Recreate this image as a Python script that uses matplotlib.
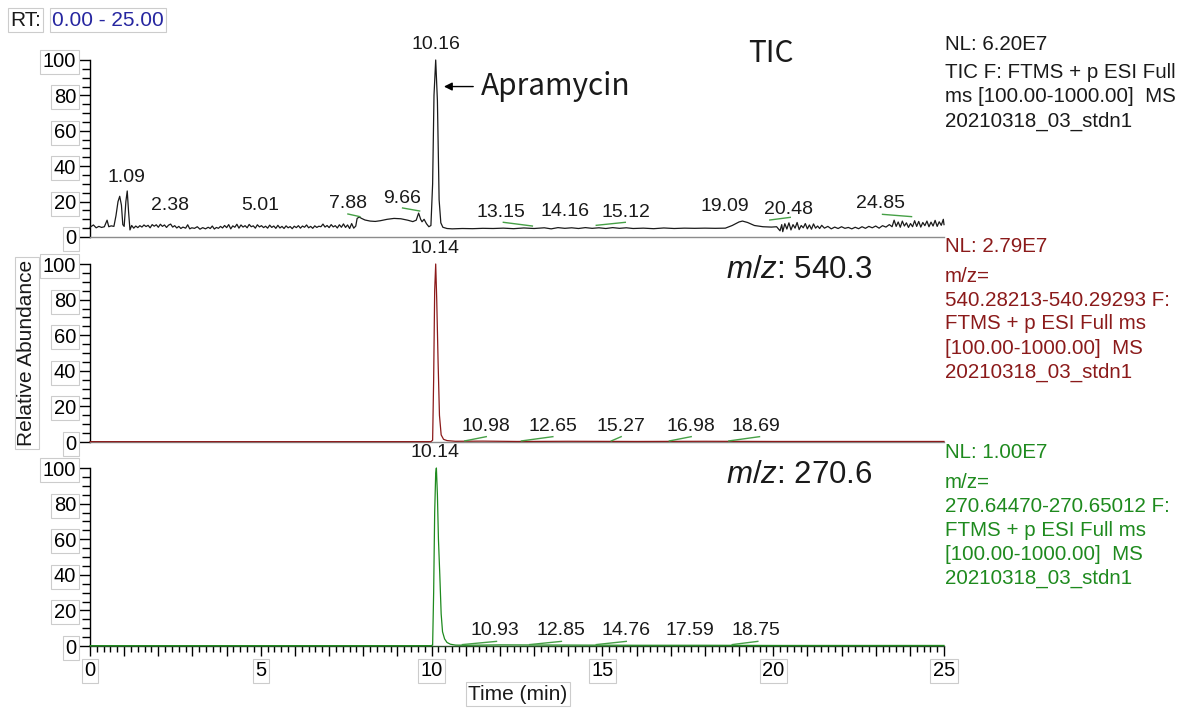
import numpy as np
import matplotlib
matplotlib.use("Agg")
from matplotlib import pyplot as plt
from matplotlib.ticker import MultipleLocator, FuncFormatter

plt.rcParams['font.family'] = ['Liberation Sans', 'DejaVu Sans']
plt.rcParams['mathtext.fontset'] = 'custom'
plt.rcParams['mathtext.it'] = 'Liberation Sans:italic'
plt.rcParams['mathtext.rm'] = 'Liberation Sans'

# ---- TIC trace ----
tic_time = [0.00, 0.10, 0.18, 0.26, 0.34, 0.42, 0.50, 0.55, 0.62, 0.70, 0.76, 0.82, 0.87, 0.92, 0.96,
            1.00, 1.05, 1.09, 1.13, 1.17, 1.22, 1.28, 1.34, 1.40, 1.46, 1.52, 1.58, 1.64, 1.70, 1.76,
            1.82, 1.88, 1.94, 2.00, 2.06, 2.12, 2.18, 2.24, 2.30, 2.36, 2.42, 2.48, 2.54, 2.60, 2.66,
            2.72, 2.80, 2.86, 2.92, 2.98, 3.06, 3.14, 3.22, 3.30, 3.38, 3.46, 3.52, 3.58, 3.64, 3.70,
            3.76, 3.82, 3.88, 3.94, 4.00, 4.06, 4.12, 4.18, 4.24, 4.30, 4.36, 4.42, 4.48, 4.54, 4.60,
            4.66, 4.72, 4.78, 4.84, 4.90, 4.96, 5.02, 5.08, 5.14, 5.20, 5.26, 5.32, 5.38, 5.44, 5.50,
            5.56, 5.62, 5.68, 5.74, 5.80, 5.86, 5.92, 5.98, 6.04, 6.10, 6.16, 6.22, 6.28, 6.34, 6.40,
            6.46, 6.52, 6.58, 6.64, 6.70, 6.76, 6.82, 6.88, 6.94, 7.00, 7.06, 7.12, 7.18, 7.24, 7.30,
            7.36, 7.42, 7.48, 7.54, 7.60, 7.66, 7.72, 7.78, 7.82, 7.88, 7.95, 8.05, 8.20, 8.35, 8.50,
            8.70, 8.90, 9.10, 9.30, 9.45, 9.55, 9.62, 9.68, 9.72, 9.78, 9.85, 9.92, 9.98, 10.03, 10.07,
            10.12, 10.17, 10.22, 10.27, 10.33, 10.45, 10.60, 10.90, 11.20, 11.50, 11.80, 12.10, 12.40,
            12.70, 13.00, 13.30, 13.50, 13.70, 13.90, 14.10, 14.30, 14.50, 14.70, 14.90, 15.10, 15.30,
            15.50, 15.70, 15.90, 16.20, 16.50, 16.80, 17.10, 17.40, 17.70, 18.00, 18.30, 18.60, 18.80,
            19.00, 19.10, 19.25, 19.45, 19.70, 19.95, 20.10, 20.20, 20.25, 20.28, 20.34, 20.40, 20.46,
            20.52, 20.58, 20.64, 20.70, 20.76, 20.82, 20.88, 20.94, 21.00, 21.06, 21.12, 21.18, 21.24,
            21.30, 21.36, 21.42, 21.50, 21.60, 21.70, 21.80, 21.90, 22.00, 22.10, 22.20, 22.30, 22.40,
            22.50, 22.60, 22.70, 22.80, 22.90, 23.00, 23.10, 23.20, 23.30, 23.40, 23.48, 23.54, 23.60,
            23.66, 23.72, 23.78, 23.84, 23.90, 23.96, 24.02, 24.08, 24.14, 24.20, 24.26, 24.32, 24.38,
            24.44, 24.50, 24.56, 24.62, 24.68, 24.74, 24.80, 24.86, 24.92, 24.98, 25.00]
tic_int = [5.5, 6.8, 5.2, 6.0, 5.4, 5.8, 9.5, 5.8, 6.3, 6.0, 12, 20, 23, 18, 7,
           6, 20, 26, 14, 4, 6.5, 5.0, 6.2, 5.3, 6.4, 5.6, 6.8, 5.9, 6.6, 5.2,
           7.0, 6.1, 6.9, 5.5, 7.2, 6.0, 6.8, 5.4, 6.7, 7.3, 5.6, 6.4, 5.1, 6.0, 4.8,
           5.6, 5.0, 6.9, 4.6, 5.2, 4.9, 5.8, 4.4, 5.3, 4.6, 5.5, 4.8, 6.2, 4.5, 5.4,
           4.9, 6.0, 5.1, 6.5, 5.3, 7.0, 4.6, 6.3, 5.5, 7.2, 5.0, 6.8, 5.6, 6.4, 5.2,
           7.1, 5.8, 6.3, 5.0, 6.9, 5.7, 6.4, 5.3, 6.1, 5.0, 6.7, 5.4, 6.2, 4.9, 6.6,
           5.1, 6.0, 4.8, 6.3, 5.2, 5.9, 4.7, 6.1, 5.3, 6.4, 5.0, 6.2, 5.5, 6.8, 5.2,
           6.0, 4.9, 6.3, 5.4, 6.1, 5.8, 7.3, 5.6, 6.5, 5.3, 7.0, 5.7, 6.4, 5.1, 6.9,
           5.5, 7.4, 5.4, 6.8, 4.8, 7.6, 5.0, 6.2, 10.5, 11.3, 10.5, 9.6, 9.0, 8.8, 9.2,
           10.0, 10.5, 10.3, 9.5, 8.7, 9.5, 13.5, 10.0, 8.6, 10.0, 7.5, 5.8, 6.5, 30, 80,
           100, 77, 21, 8, 5.5, 4.8, 4.6, 4.8, 4.7, 4.9, 4.8, 5.0, 4.7,
           5.1, 4.8, 5.2, 4.6, 5.3, 4.9, 5.2, 4.8, 5.3, 4.9, 5.2, 4.8, 5.3,
           4.9, 5.2, 4.8, 5.0, 4.7, 5.1, 4.8, 5.0, 4.9, 5.0, 4.9, 5.0, 6.5,
           8.5, 9.0, 8.2, 6.5, 5.8, 5.6, 5.8, 3.5, 7.0, 3.0, 7.5, 4.5, 8.0,
           4.0, 7.0, 5.0, 8.2, 4.2, 6.5, 5.2, 7.6, 4.6, 6.8, 4.4, 7.4, 5.0,
           6.2, 4.8, 6.6, 5.0, 6.0, 4.6, 5.6, 4.8, 5.8, 4.9, 5.4, 4.6, 5.5,
           4.7, 5.8, 4.9, 6.0, 5.2, 6.2, 5.0, 6.4, 5.6, 7.0, 5.8, 9.5, 6.0,
           8.5, 5.5, 9.0, 6.2, 8.0, 5.4, 7.6, 5.8, 9.2, 6.0, 8.8, 5.6, 8.2,
           6.4, 9.0, 5.8, 8.4, 6.2, 9.4, 6.0, 8.6, 6.6, 10.0, 7.0]

# ---- m/z 540.3 trace ----
mz540_time = [0.0, 9.98, 10.03, 10.06, 10.09, 10.12, 10.15, 10.19, 10.23, 10.28, 10.35, 10.45,
              10.70, 11.50, 12.50, 14.00, 16.00, 18.00, 20.00, 25.00]
mz540_int = [0.2, 0.2, 1, 35, 85, 100, 80, 45, 15, 4, 1.5, 0.8, 0.4, 0.5, 0.3, 0.4, 0.3, 0.4, 0.3, 0.3]

# ---- m/z 270.6 trace ----
mz270_time = [0.0, 9.98, 10.03, 10.06, 10.09, 10.12, 10.14, 10.17, 10.20, 10.24, 10.28, 10.32,
              10.38, 10.45, 10.55, 10.70, 11.00, 12.00, 14.00, 16.00, 18.00, 20.00, 25.00]
mz270_int = [0.2, 0.2, 0.5, 30, 75, 97, 100, 85, 60, 40, 18, 8, 4, 2, 1, 0.5, 0.4, 0.6, 0.5,
             0.4, 0.4, 0.3, 0.3]

# ---- peak labels: text, x, y ----
tic_lbl = ["10.16", "1.09", "2.38", "5.01", "7.88", "9.66", "13.15", "14.16", "15.12", "19.09", "20.48", "24.85"]
tic_lbl_x = [10.12, 1.08, 2.34, 4.97, 7.55, 9.13, 12.04, 13.9, 15.68, 18.58, 20.45, 23.15]
tic_lbl_y = [104, 28.8, 13, 13, 14, 17, 9.2, 9.6, 9.2, 12.4, 10.7, 14]

mz540_lbl = ["10.14", "10.98", "12.65", "15.27", "16.98", "18.69"]
mz540_lbl_x = [10.11, 11.58, 13.55, 15.55, 17.6, 19.5]
mz540_lbl_y = [104, 3.9, 3.9, 3.9, 3.9, 3.9]

mz270_lbl = ["10.14", "10.93", "12.85", "14.76", "17.59", "18.75"]
mz270_lbl_x = [10.11, 11.85, 13.8, 15.7, 17.55, 19.5]
mz270_lbl_y = [104, 4, 4, 4, 4, 4]

# ---- integration baselines (green marks): x0, x1, y0, y1 ----
tic_base = [(7.55, 7.9, 13, 11.5), (9.15, 9.65, 16.4, 14.7), (12.1, 12.95, 8.3, 6.2),
            (14.82, 15.67, 6.6, 8.3), (19.9, 20.5, 9.6, 11.1), (23.2, 24.05, 12.8, 11.5)]
mz540_base = [(10.97, 11.6, 0.6, 3), (12.63, 13.55, 0.6, 3), (15.26, 15.55, 0.6, 3),
              (16.96, 17.6, 0.6, 3), (18.7, 19.6, 0.6, 3)]
mz270_base = [(10.9, 11.9, 0.8, 2.6), (12.87, 13.8, 0.8, 2.6), (14.82, 15.7, 0.8, 2.6),
              (18.8, 19.55, 0.8, 2.6)]

# ---- right hand info texts ----
tic_info = ["NL: 6.20E7", "TIC F: FTMS + p ESI Full", "ms [100.00-1000.00]  MS", "20210318_03_stdn1"]
mz540_info = ["NL: 2.79E7", "m/z=", "540.28213-540.29293 F:", "FTMS + p ESI Full ms",
              "[100.00-1000.00]  MS", "20210318_03_stdn1"]
mz270_info = ["NL: 1.00E7", "m/z=", "270.64470-270.65012 F:", "FTMS + p ESI Full ms",
              "[100.00-1000.00]  MS", "20210318_03_stdn1"]

W, H = 1179, 709
black = "#1a1a1a"
red = "#8b1a1a"
green = "#1e8a1e"
mark_green = "#46a046"
box = dict(boxstyle="square,pad=0.12", fc="white", ec="#cccccc", lw=0.8)

fig = plt.figure(figsize=(W / 100, H / 100), dpi=100)


def make_ax(top_px, bot_px):
    ax = fig.add_axes([90 / W, 1 - bot_px / H, 854 / W, (bot_px - top_px) / H])
    ax.set_xlim(0, 25)
    ax.set_ylim(0, 100)
    ax.spines["top"].set_visible(False)
    ax.spines["right"].set_visible(False)
    ax.spines["left"].set_color("black")
    ax.spines["left"].set_linewidth(1)
    ax.spines["bottom"].set_color("#8c8c8c")
    ax.spines["bottom"].set_linewidth(1)
    ax.yaxis.set_major_locator(MultipleLocator(20))
    ax.yaxis.set_minor_locator(MultipleLocator(5))
    ax.tick_params(axis="y", which="major", length=9, width=1, pad=1, labelsize=14.5, colors="black")
    ax.tick_params(axis="y", which="minor", length=6, width=1)
    ax.tick_params(axis="x", which="both", bottom=False, labelbottom=False)
    ax.patch.set_alpha(0)
    return ax


ax1 = make_ax(60, 237)
ax2 = make_ax(264, 442)
ax3 = make_ax(468, 646)

traces = [(ax1, tic_time, tic_int, black, tic_lbl, tic_lbl_x, tic_lbl_y, tic_base),
          (ax2, mz540_time, mz540_int, red, mz540_lbl, mz540_lbl_x, mz540_lbl_y, mz540_base),
          (ax3, mz270_time, mz270_int, green, mz270_lbl, mz270_lbl_x, mz270_lbl_y, mz270_base)]

for ax, t, v, col, lbl, lx, ly, base in traces:
    ax.plot(t, v, color=col, lw=0.9, clip_on=False, zorder=3)
    for x0, x1, y0, y1 in base:
        ax.plot([x0, x1], [y0, y1], color=mark_green, lw=1, zorder=4)
    for s, x, y in zip(lbl, lx, ly):
        ax.text(x, y, s, ha="center", va="bottom", fontsize=14, color=black, clip_on=False)
    for tl in ax.get_yticklabels():
        tl.set_bbox(box)

# x axis on bottom panel
ax3.xaxis.set_major_locator(MultipleLocator(1))
ax3.xaxis.set_minor_locator(MultipleLocator(0.2))
ax3.xaxis.set_major_formatter(FuncFormatter(lambda x, p: "%d" % round(x) if round(x) % 5 == 0 else ""))
ax3.tick_params(axis="x", which="major", bottom=True, labelbottom=True, length=7, width=1,
                pad=4, labelsize=14.5, colors="black")
ax3.tick_params(axis="x", which="minor", bottom=True, length=4, width=1, colors="black")
ax3.spines["bottom"].set_color("#2a4a2a")
for tl in ax3.get_xticklabels():
    tl.set_bbox(box)

# annotations
big = dict(family=["Noto Sans CJK JP", "DejaVu Sans"], fontsize=21.5)
ax1.annotate("", xy=(10.28, 85), xytext=(11.3, 85),
             arrowprops=dict(arrowstyle="-|>", color="black", lw=1, mutation_scale=12))
ax1.text(11.45, 85, "Apramycin", ha="left", va="center", color=black, **big)
ax1.text(19.94, 103.4, "TIC", ha="center", va="center", color=black, clip_on=False, **big)
ax2.text(18.63, 96.6, r"$\mathit{m/z}$: 540.3", ha="left", va="center", fontsize=22.5, color=black)
ax3.text(18.63, 96.0, r"$\mathit{m/z}$: 270.6", ha="left", va="center", fontsize=22.5, color=black)

# right-hand info blocks
for lines, y_first, col in [(tic_info, 44, black), (mz540_info, 247, red), (mz270_info, 453, green)]:
    for i, s in enumerate(lines):
        y = y_first if i == 0 else y_first + 5 + 24 * i
        fig.text(945 / W, 1 - y / H, s, ha="left", va="center", fontsize=14.8, color=col)

# header and axis titles
fig.text(10 / W, 1 - 20 / H, "RT:", ha="left", va="center", fontsize=15, color=black, bbox=box)
fig.text(52 / W, 1 - 20 / H, "0.00 - 25.00", ha="left", va="center", fontsize=15,
         color="#2626a0", bbox=box)
fig.text(27 / W, 1 - 353 / H, "Relative Abundance", ha="center", va="center", rotation=90,
         fontsize=15, color=black, bbox=box)
fig.text(518 / W, 1 - 694 / H, "Time (min)", ha="center", va="center", fontsize=15,
         color=black, bbox=box)

fig.savefig("out.png", dpi=100)
